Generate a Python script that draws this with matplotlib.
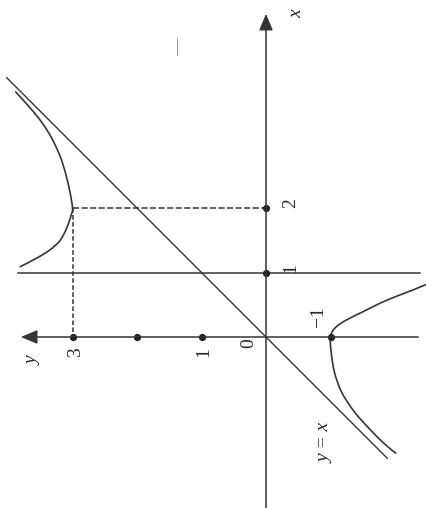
import numpy as np
import matplotlib
matplotlib.use("Agg")
import matplotlib.pyplot as plt
from matplotlib.path import Path
from matplotlib.patches import PathPatch, ArrowStyle

# Curve y = x + 1/(x - 1): points along each branch (x, y)
upper_x = [3.80, 3.60, 3.40, 3.20, 3.00, 2.77, 2.51, 2.25, 2.00, 1.89, 1.69, 1.50, 1.35, 1.22, 1.09]
upper_y = [3.88, 3.70, 3.53, 3.39, 3.28, 3.18, 3.10, 3.04, 3.00, 3.02, 3.09, 3.19, 3.35, 3.56, 3.81]
lower_x = [0.83, 0.73, 0.63, 0.52, 0.39, 0.26, 0.14, 0.00, -0.23, -0.54, -0.85, -1.16, -1.42, -1.65, -1.80]
lower_y = [-2.52, -2.28, -2.02, -1.76, -1.50, -1.24, -1.07, -1.00, -1.01, -1.06, -1.17, -1.37, -1.60, -1.83, -2.01]

# Asymptotes
diag_range = [-1.88, 4.02]          # y = x, over this range of x
vert_asym_x = 1.0                   # x = 1
vert_asym_yrange = [3.845, -2.39]

# Extremum points
local_min = (2.0, 3.0)
local_max = (0.0, -1.0)

# Ticks
x_ticks = [1, 2]
x_tick_labels = ["1", "2"]
y_ticks = [1, 2, 3]
y_tick_labels = ["1", "", "3"]

# Axis extents
x_axis_range = [-2.66, 5.01]
y_axis_range = [-2.36, 3.80]

INK = "#353535"
SERIF = ["Liberation Serif", "DejaVu Serif"]

fig = plt.figure(figsize=(4.26, 5.08), dpi=100)
ax = fig.add_axes([0, 0, 1, 1])
ax.axis("off")
# The page is turned: math y runs right-to-left horizontally, math x runs upward.
ax.set_xlim(266 / 64.5, (266 - 426) / 64.5)
ax.set_ylim((337 - 508) / 64.5, 337 / 64.5)


def smooth_path(h, v):
    pts = np.column_stack([h, v]).astype(float)
    verts = [pts[0]]
    codes = [Path.MOVETO]
    n = len(pts)
    for i in range(n - 1):
        p0 = pts[i - 1] if i > 0 else pts[i]
        p1, p2 = pts[i], pts[i + 1]
        p3 = pts[i + 2] if i + 2 < n else pts[i + 1]
        verts += [p1 + (p2 - p0) / 6, p2 - (p3 - p1) / 6, p2]
        codes += [Path.CURVE4] * 3
    return Path(verts, codes)


def arrow(start, tip):
    ax.annotate("", xy=tip, xytext=start,
                arrowprops=dict(arrowstyle=ArrowStyle("-|>", head_length=1.0, head_width=0.42),
                                mutation_scale=10, lw=1.1, color=INK,
                                shrinkA=0, shrinkB=0))


# Axes with arrows (plotted as (y, x))
arrow((0, x_axis_range[0]), (0, x_axis_range[1]))
arrow((y_axis_range[0], 0), (y_axis_range[1], 0))

# Asymptotes
ax.plot(vert_asym_yrange, [vert_asym_x, vert_asym_x], color=INK, lw=1.1)
ax.plot(diag_range, diag_range, color=INK, lw=1.0)

# Branches
for bx, by in ((upper_x, upper_y), (lower_x, lower_y)):
    ax.add_patch(PathPatch(smooth_path(by, bx), fill=False, edgecolor=INK, lw=1.2,
                           capstyle="round"))

# Dashed guides to the local minimum
mx, my = local_min
ax.plot([my, 0], [mx, mx], color=INK, lw=1.1, ls=(0, (4, 1.6)))
ax.plot([my, my], [mx, 0], color=INK, lw=1.1, ls=(0, (3, 1.6)))

# Tick dots
ax.plot(y_ticks, [0] * len(y_ticks), "o", color="#222222", ms=4.2)
ax.plot([0] * len(x_ticks), x_ticks, "o", color="#222222", ms=4.2)
ax.plot([local_max[1]], [local_max[0]], "o", color="#222222", ms=4.2)

txt = dict(rotation=90, ha="center", va="center", color="#2a2a2a",
           family=SERIF, fontsize=14)

# Tick labels
for t, s in zip(x_ticks, x_tick_labels):
    ax.text(-0.38, t + 0.07, s, **txt)
for t, s in zip(y_ticks, y_tick_labels):
    if s:
        ax.text(t - 0.04, -0.24, s, **txt)
ax.text(0.27, -0.10, "0", **txt)
ax.text(-0.81, 0.31, "\u22121", **txt)

# Axis names and asymptote label
ax.text(-0.48, 5.01, "x", style="italic", **txt)
ax.text(3.61, -0.36, "y", style="italic", **txt)
ax.text(-0.92, -1.64, "y = x", style="italic", **txt)

# Small dash near the top
ax.text(1.36, 4.50, "\u2014", rotation=90, ha="center", va="center",
        color="#777777", family=SERIF, fontsize=13)

fig.savefig("out.png", dpi=100, facecolor="white")
